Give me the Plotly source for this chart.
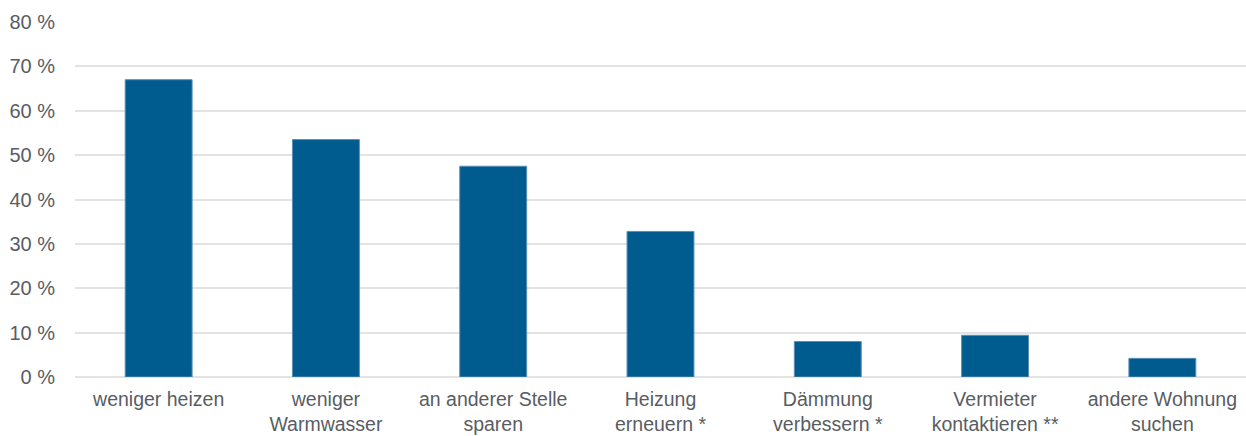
import plotly.graph_objects as go

categories = [
    "weniger heizen",
    "weniger<br>Warmwasser",
    "an anderer Stelle<br>sparen",
    "Heizung<br>erneuern *",
    "Dämmung<br>verbessern *",
    "Vermieter<br>kontaktieren **",
    "andere Wohnung<br>suchen",
]
values = [67.0, 53.5, 47.5, 32.8, 8.0, 9.4, 4.2]
y_ticks = [0, 10, 20, 30, 40, 50, 60, 70, 80]

font_color = "#595d63"

fig = go.Figure(
    go.Bar(
        x=categories,
        y=values,
        width=0.4,
        marker=dict(color="#005b8f", line=dict(color="#5a8fb5", width=1)),
        hoverinfo="skip",
    )
)

fig.update_layout(
    width=1246,
    height=436,
    margin=dict(l=75, r=0, t=22, b=59),
    paper_bgcolor="white",
    plot_bgcolor="white",
    showlegend=False,
    font=dict(family="Liberation Sans, Arial, sans-serif", size=20, color=font_color),
    bargap=0.6,
)

fig.update_xaxes(
    showgrid=False,
    showline=False,
    ticks="",
    tickfont=dict(size=19.5, color=font_color),
    ticklabelstandoff=8,
    automargin=False,
    fixedrange=True,
)

fig.update_yaxes(
    range=[0, 80],
    tickvals=y_ticks,
    ticktext=[f"{v} %" for v in y_ticks],
    showgrid=True,
    gridcolor="#e3e3e3",
    gridwidth=2,
    zeroline=True,
    zerolinecolor="#e3e3e3",
    zerolinewidth=2,
    showline=False,
    ticks="",
    tickfont=dict(size=20, color=font_color),
    ticklabelstandoff=19,
    automargin=False,
    fixedrange=True,
)

fig.write_html("out.html")
